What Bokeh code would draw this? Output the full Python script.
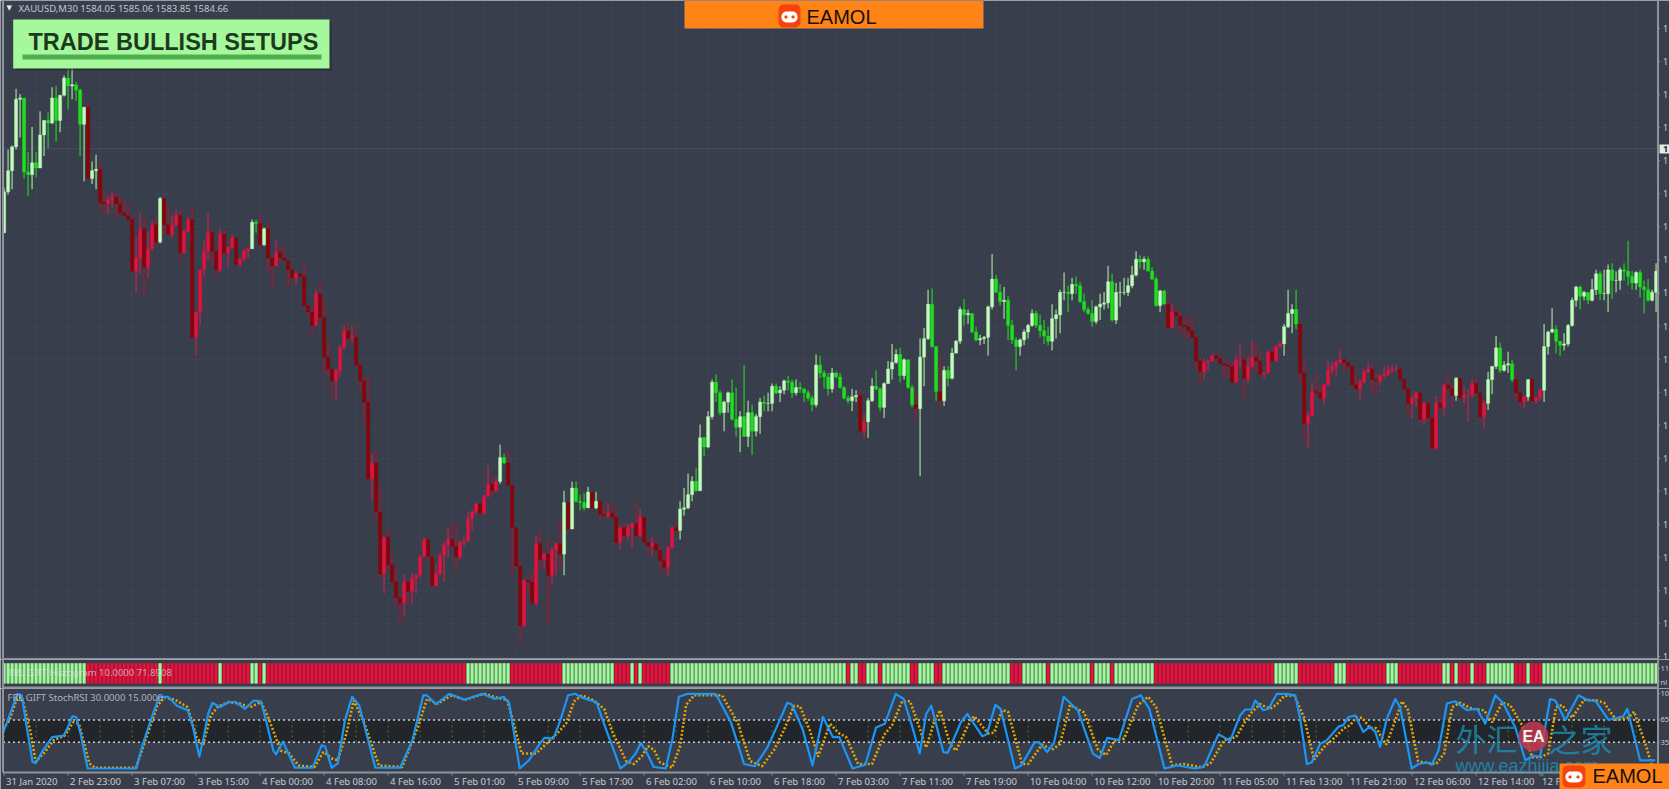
from bokeh.core.properties import value
from bokeh.embed import file_html
from bokeh.resources import INLINE
from bokeh.layouts import column
from bokeh.models import (BoxAnnotation, ColumnDataSource, FixedTicker, Grid, Label, Range1d)
from bokeh.plotting import figure

# ---------------- chart values ----------------
first_open = 1578.3
closes = [
1581.4,1583.0,1584.8,1588.4,1588.5,1582.9,1582.7,1583.6,1583.2,1585.7,1586.8,1586.6,1588.5,1586.8,1588.7,1590.0,1589.4,1589.5,1589.1,1586.5,
1587.8,1582.4,1583.0,1583.1,1580.6,1580.5,1580.8,1581.0,1580.5,1579.8,1579.6,1579.3,1575.4,1576.4,1578.6,1575.7,1577.1,1578.9,1577.6,1580.9,
1578.9,1578.2,1578.9,1579.6,1576.8,1578.4,1579.3,1570.4,1572.3,1575.5,1576.9,1578.3,1576.9,1575.5,1578.2,1576.8,1577.2,1577.9,1575.9,1576.3,
1576.9,1577.1,1579.1,1579.0,1577.4,1578.6,1576.4,1575.8,1576.8,1576.4,1576.2,1575.5,1574.9,1575.2,1575.0,1572.8,1572.3,1571.3,1573.7,1571.9,
1568.9,1568.0,1567.1,1567.9,1569.6,1570.9,1570.3,1570.4,1568.3,1567.1,
1565.5,1559.7,1560.9,1557.2,1552.5,1555.3,1553.2,1551.9,1550.7,1550.3,1551.9,1551.2,1552.2,1552.4,1553.8,1555.1,1553.8,1551.6,1552.5,1553.9,
1554.7,1555.1,1554.6,1553.8,1554.9,1555.0,1556.7,1557.2,1557.8,1557.1,1558.4,1559.3,1558.8,1559.5,1561.3,1560.9,1559.2,1556.0,1553.1,1548.6,
1552.0,1551.9,1550.3,1554.8,1553.6,1554.0,1552.4,1554.3,1554.8,1554.0,1557.9,1555.9,1559.0,1558.0,1557.9,1557.5,1558.7,1557.5,1558.0,1557.0,
1556.9,1557.1,1556.8,1554.9,1556.0,1555.4,1556.0,1556.3,1555.4,1556.8,1554.9,1554.6,1554.8,1554.3,1553.5,1553.0,1554.5,1556.0,1555.8,1557.4,
1557.5,1558.5,1559.5,1558.8,1562.8,
1562.1,1564.4,1567.0,1566.2,1564.7,1565.5,1566.2,1564.2,1563.6,1564.4,1562.9,1564.7,1563.3,1564.4,1565.5,1565.4,1565.4,1566.7,1566.2,1566.4,
1567.1,1567.0,1566.2,1566.6,1566.5,1566.2,1565.8,1565.3,1568.3,1567.7,1567.4,1566.5,1567.7,1567.4,1566.6,1565.8,1565.6,1565.9,1566.0,1563.3,
1564.0,1565.6,1566.7,1566.5,1565.1,1566.9,1568.0,1568.5,1569.1,1567.5,1568.7,1566.6,1565.3,1565.0,1568.9,1570.3,1572.9,1569.7,1566.3,1565.6,
1567.9,1567.3,1569.2,1570.1,1572.5,1572.1,1572.2,1570.8,1570.2,1570.3,1570.4,1572.7,1574.8,1573.8,1573.1,1573.2,1571.3,1570.2,1569.7,1570.2,
1570.8,1571.3,1572.2,1571.3,1570.9,
1570.5,1570.1,1571.8,1572.1,1573.8,1573.8,1573.7,1574.4,1574.3,1573.1,1572.5,1572.2,1571.6,1572.7,1572.9,1573.0,1574.6,1571.7,1573.8,1573.8,
1573.8,1574.3,1575.1,1576.3,1576.1,1576.3,1575.4,1574.8,1572.8,1573.9,1572.9,1571.1,1572.3,1572.0,1571.3,1571.2,1570.9,1570.4,1568.6,1567.8,
1568.5,1568.6,1569.0,1568.8,1568.4,1568.3,1568.2,1567.0,1568.7,1568.7,1567.3,1568.2,1568.9,1568.6,1567.6,1567.7,1569.3,1568.6,1569.7,1569.9,
1571.2,1572.2,1572.5,1571.4,1567.7,1563.9,1564.5,1566.3,1566.2,1565.8,1566.8,1567.9,1568.2,1568.5,1568.7,1568.5,1568.2,1566.8,1566.5,1567.0,
1567.8,1568.0,1567.2,1567.1,1567.5,
1567.6,1567.9,1568.0,1568.0,1567.2,1566.5,1565.4,1565.8,1566.2,1564.2,1565.4,1564.3,1562.0,1565.4,1565.1,1566.8,1566.5,1566.0,1567.3,1565.8,
1566.0,1566.0,1566.9,1566.2,1564.4,1565.4,1567.2,1568.2,1569.6,1567.9,1568.3,1568.4,1567.2,1566.2,1565.5,1565.9,1567.2,1565.6,1565.8,1566.4,
1569.7,1570.8,1571.0,1570.1,1569.8,1569.9,1571.3,1573.2,1574.2,1573.5,1573.8,1573.2,1574.0,1575.2,1573.7,1573.7,1575.5,1574.7,1574.7,1575.5,
1575.4,1575.0,1574.5,1575.3,1574.2,1574.0,1573.2,1573.8,1575.4]
highs = [
1581.7,1584.6,1584.9,1589.2,1588.8,1588.5,1584.4,1586.3,1584.4,1587.5,1586.8,1587.4,1589.3,1589.4,1588.7,1590.2,1591.5,1591.0,1589.7,1589.2,
1587.8,1588.0,1583.7,1584.2,1583.6,1581.5,1581.1,1581.4,1581.3,1581.0,1580.9,1580.5,1579.6,1577.9,1579.8,1579.5,1578.4,1579.2,1579.5,1581.0,
1581.1,1580.4,1579.6,1580.0,1580.0,1578.6,1579.5,1580.4,1572.3,1575.5,1577.7,1579.8,1578.6,1576.9,1578.6,1578.6,1577.2,1578.2,1577.9,1576.4,
1577.1,1577.2,1579.3,1579.3,1579.7,1578.7,1579.1,1576.4,1577.7,1577.3,1577.3,1576.2,1575.5,1575.4,1575.3,1575.9,1572.8,1572.7,1574.0,1574.6,
1573.2,1570.1,1568.0,1568.0,1569.8,1571.3,1571.5,1571.2,1571.1,1568.5,
1567.4,1567.4,1561.6,1561.9,1559.1,1555.3,1556.0,1554.0,1553.0,1550.7,1552.5,1552.0,1552.6,1552.5,1553.9,1555.3,1555.2,1553.9,1553.2,1554.1,
1554.9,1555.9,1556.4,1556.3,1555.0,1555.3,1557.2,1557.3,1557.9,1557.8,1558.5,1560.7,1559.9,1559.8,1562.3,1561.6,1561.9,1559.3,1556.0,1553.5,
1552.1,1552.5,1552.5,1555.4,1555.8,1554.1,1555.2,1554.5,1554.9,1556.7,1558.8,1557.9,1559.5,1559.5,1558.5,1558.6,1559.1,1558.7,1558.7,1558.1,
1557.7,1557.8,1557.8,1557.5,1556.1,1556.5,1556.3,1556.4,1558.0,1557.4,1556.8,1555.1,1555.3,1555.0,1554.6,1554.1,1554.6,1556.1,1556.5,1558.0,
1559.0,1560.1,1559.9,1560.5,1563.8,
1562.9,1564.8,1567.2,1567.6,1566.4,1565.6,1566.3,1567.2,1566.6,1564.8,1568.3,1565.6,1565.3,1564.6,1565.8,1566.0,1566.2,1566.9,1566.9,1566.7,
1567.2,1567.5,1567.2,1567.2,1567.0,1566.5,1566.4,1566.0,1569.1,1569.0,1567.9,1567.7,1568.1,1567.8,1567.7,1566.7,1566.0,1566.5,1566.4,1566.5,
1564.6,1565.8,1567.3,1567.9,1566.6,1567.0,1568.6,1569.9,1569.5,1569.6,1568.8,1568.7,1566.8,1566.4,1570.3,1571.1,1574.0,1574.1,1569.7,1568.9,
1568.2,1568.2,1569.6,1570.2,1572.7,1573.3,1572.5,1572.2,1571.2,1570.6,1570.5,1572.8,1576.7,1575.1,1574.4,1574.2,1573.5,1571.7,1570.4,1570.3,
1571.0,1571.4,1572.5,1572.4,1572.1,
1571.7,1571.2,1572.9,1572.5,1574.0,1575.3,1574.3,1574.9,1575.0,1574.6,1573.7,1572.7,1573.2,1572.8,1573.7,1573.8,1575.8,1575.2,1574.5,1574.6,
1574.9,1574.9,1575.8,1576.9,1576.6,1576.5,1576.5,1575.7,1575.0,1574.0,1574.0,1573.3,1572.9,1572.7,1572.5,1571.9,1572.1,1571.9,1570.6,1568.9,
1568.8,1568.7,1569.1,1569.1,1569.2,1568.5,1568.7,1568.4,1569.1,1569.9,1569.1,1568.9,1570.1,1570.1,1569.4,1567.8,1569.4,1569.7,1569.8,1570.1,
1571.4,1574.0,1572.9,1574.0,1571.5,1568.7,1564.8,1567.0,1567.6,1566.8,1566.9,1568.6,1568.5,1568.7,1569.5,1568.8,1568.5,1568.2,1567.9,1567.2,
1568.0,1568.5,1568.3,1567.7,1567.6,
1568.2,1568.3,1568.3,1568.4,1568.0,1567.2,1566.6,1566.0,1566.3,1566.2,1565.5,1565.6,1564.4,1566.0,1566.0,1566.9,1567.7,1566.8,1567.4,1567.3,
1566.7,1566.5,1567.2,1567.3,1566.3,1565.6,1567.8,1568.2,1570.5,1570.0,1568.6,1569.3,1568.7,1567.7,1566.3,1566.0,1567.2,1567.2,1565.9,1566.5,
1571.4,1570.9,1572.6,1571.3,1570.1,1570.7,1571.4,1573.4,1574.3,1574.3,1573.9,1573.8,1574.8,1575.5,1575.4,1575.5,1575.9,1576.0,1575.4,1575.7,
1576.0,1577.7,1575.4,1575.4,1575.5,1574.7,1574.8,1574.0,1576.0]
lows = [
1578.3,1581.2,1581.6,1584.6,1585.5,1582.4,1581.1,1581.6,1582.5,1583.2,1584.1,1584.7,1586.5,1585.2,1585.9,1588.6,1587.6,1588.4,1588.3,1584.1,
1582.2,1582.4,1582.0,1581.6,1580.0,1579.7,1579.7,1580.2,1579.3,1579.7,1579.5,1579.2,1575.3,1573.8,1575.2,1573.5,1574.9,1576.9,1577.4,1577.5,
1578.1,1578.1,1577.9,1578.8,1576.2,1576.7,1578.3,1570.3,1569.0,1571.3,1575.0,1576.2,1575.8,1574.8,1575.3,1576.6,1575.7,1577.1,1575.9,1575.7,
1576.2,1576.4,1577.1,1578.3,1577.2,1577.3,1575.3,1573.9,1575.8,1576.3,1576.1,1574.4,1574.4,1574.4,1574.9,1572.7,1571.9,1570.6,1571.3,1571.8,
1567.6,1567.5,1565.8,1565.6,1567.4,1569.5,1570.1,1570.0,1568.2,1566.4,
1564.1,1559.7,1558.0,1556.5,1552.2,1551.0,1553.0,1551.9,1549.9,1548.8,1549.3,1550.3,1550.2,1551.0,1552.2,1553.8,1553.6,1551.5,1552.2,1552.4,
1551.9,1553.8,1554.4,1552.6,1553.6,1554.6,1554.9,1555.8,1557.0,1557.0,1557.0,1558.3,1558.3,1558.7,1559.3,1560.8,1559.2,1552.5,1553.0,1547.3,
1548.5,1550.9,1550.3,1550.1,1552.9,1553.0,1548.7,1551.7,1552.4,1552.7,1552.4,1555.8,1555.9,1557.9,1557.3,1557.3,1557.5,1557.4,1557.4,1556.5,
1556.8,1556.7,1556.7,1554.8,1554.3,1555.2,1555.0,1554.4,1555.2,1555.3,1554.8,1553.9,1553.8,1554.1,1552.7,1552.6,1552.3,1554.4,1555.6,1555.1,
1556.9,1557.4,1558.0,1558.7,1558.8,
1561.4,1562.0,1564.2,1565.5,1564.5,1563.3,1564.7,1564.1,1562.9,1561.7,1562.9,1562.1,1561.5,1562.9,1563.1,1564.8,1564.8,1564.8,1566.1,1565.5,
1566.1,1566.4,1565.8,1566.0,1566.2,1565.5,1565.6,1564.8,1565.1,1567.3,1566.5,1566.0,1566.2,1567.3,1566.5,1565.7,1565.4,1564.8,1565.5,1563.3,
1562.8,1562.8,1565.5,1566.4,1564.8,1564.3,1566.9,1567.2,1568.4,1567.0,1567.2,1566.5,1565.1,1564.1,1559.9,1566.7,1570.2,1569.6,1565.6,1565.1,
1565.2,1566.7,1567.2,1569.2,1569.9,1571.3,1571.4,1570.7,1570.1,1569.8,1569.9,1569.0,1572.5,1573.8,1572.8,1571.8,1570.2,1569.9,1567.9,1569.0,
1569.8,1570.3,1571.2,1571.1,1570.4,
1569.9,1569.8,1569.4,1570.3,1570.7,1573.2,1572.3,1573.2,1573.7,1573.0,1572.3,1572.1,1571.2,1571.4,1571.7,1572.5,1572.6,1571.6,1571.4,1572.7,
1573.6,1573.5,1574.1,1575.0,1575.6,1575.5,1575.4,1574.7,1572.7,1572.3,1572.9,1571.1,1571.1,1571.9,1570.7,1570.3,1570.2,1570.4,1567.9,1566.9,
1567.2,1567.9,1568.6,1568.7,1568.4,1567.2,1567.4,1566.9,1567.0,1568.0,1565.8,1566.9,1568.0,1567.7,1567.5,1567.3,1567.7,1568.5,1568.6,1569.6,
1569.0,1571.1,1570.7,1571.0,1567.0,1562.6,1562.0,1564.4,1566.0,1565.6,1565.3,1566.7,1567.6,1567.4,1568.4,1567.8,1568.0,1566.7,1566.4,1565.6,
1566.9,1567.7,1566.2,1566.0,1566.8,
1567.3,1567.5,1567.7,1567.8,1567.2,1566.4,1564.5,1564.3,1565.1,1563.8,1563.8,1564.1,1561.9,1561.9,1565.0,1564.4,1566.4,1565.1,1565.6,1565.8,
1565.4,1564.0,1565.8,1566.2,1564.0,1563.6,1564.9,1566.1,1568.0,1567.7,1567.8,1567.7,1567.0,1565.6,1565.1,1565.0,1565.6,1565.4,1565.4,1565.6,
1565.5,1569.1,1570.7,1569.2,1569.0,1569.4,1569.7,1571.2,1572.7,1572.5,1573.2,1572.9,1573.1,1573.6,1573.2,1573.2,1572.3,1573.3,1573.8,1574.0,
1574.7,1574.3,1574.0,1574.0,1573.4,1572.2,1573.1,1573.1,1572.3]
# first..last bar of every run of green-regime candles
candle_green_runs = [(0,20),(22,23),(39,39),(62,63),(65,65),(124,125),(140,140),(142,146),(148,148),(169,213),
                     (216,227),(229,233),(235,290),(320,323),(363,363),(371,377),(381,381),(385,413)]
# first..last bar of every run of green histogram stripes
hist_green_runs = [(0,20),(39,39),(54,54),(62,63),(65,65),(116,126),(140,152),(157,157),(159,159),(167,210),
                   (212,213),(216,218),(220,226),(229,232),(235,251),(255,260),(262,271),(273,276),(278,287),
                   (318,323),(333,335),(346,348),(360,361),(363,363),(367,367),(371,377),(381,381),(385,413)]
blue_bars = [-0.3,1.7,3.3,4.4,5.4,7.1,7.9,9.7,12,14.9,16,17.1,18,19.1,20.9,32,33,34.7,37.4,38.8,41,43.2,45.9,47.2,48.8,49.9,51,52.1,53.9,
56.2,57.9,60.2,62.4,64.2,65.5,67.3,68,69.7,72.7,77.1,79.4,80.3,81.9,83.4,85.2,87,88.8,92.8,99,102.1,104.8,105.7,107.9,111.3,115.1,119.6,
122.7,124.9,126.3,128.9,131.2,
134,135.1,137.3,138.9,141,142.7,144.8,148.1,150.3,154.1,156.2,157.9,159.2,160.6,162.4,165.4,167.1,168.7,170.9,177.9,181.7,185,187.7,190.9,
193.1,195.8,196.9,199.6,202.1,204.7,207.2,208.8,212.1,215.3,218,220.2,222.9,224.9,227.2,228.9,230.5,231.8,234.8,235.9,239.2,240.8,244.6,
245.7,247.8,249.1,252.7,254.3,257.6,258.7,260.8,262.5,264.9,268.4,272.2,273.9,275.8,278.7,282,284.2,286.3,290.1,293.4,297.7,299.9,
300.3,303.6,306.5,309,310.3,311.9,312.8,314.8,316.1,318.2,320.7,322.8,324,325.7,326.9,329,330.7,333.6,334.8,336.1,337.8,339.8,341.5,342.8,
344,345.7,347.8,349,351.9,353.6,355.7,356.9,358.6,360.7,362.8,365.7,368.2,370.3,372.8,374.8,377.8,380.3,382.3,384,386.5,387.8,390.3,393.6,
396.1,397.8,401.1,404.8,405.8,409,412.8]
blue_vals = [47,76,100,98,64,9,7,24,42,44,56,70,69,47,0,0,0,33,76,96,96,84,78,56,16,42,73,88,82,89,89,80,91,90,64,24,19,36,1,1,31,29,1,7,64,96,84,
1,1,38,98,98,86,100,92,100,93,96,87,0,11,
34,41,40,62,98,100,94,89,55,0,9,20,34,22,2,0,40,96,100,100,62,6,3,29,55,88,86,53,4,69,42,42,0,5,55,60,100,93,53,20,73,84,22,21,62,73,43,46,85,
80,0,4,35,35,22,35,96,78,20,14,41,38,93,98,80,0,4,0,2,
6,46,37,71,79,79,91,78,80,100,100,98,67,6,8,33,38,56,58,69,71,49,56,49,29,67,93,82,0,6,8,5,24,87,90,78,80,60,98,87,55,11,17,16,93,91,65,98,91,
91,65,70,80,11,11]
orange_bars = [-0.3,1.3,3,4.4,6.6,7.9,10.2,12.4,15.1,17.3,18.7,21.3,22.7,33,35.6,38.3,40.1,42.8,45.9,48.1,49.7,51.7,53.5,56.2,58.8,61.5,64.2,66,69.1,71.3,
73.6,77.6,79.8,82.1,83.4,85.6,87.4,90.1,93.7,99.5,103.5,105.7,108.4,112,115.1,120,123.1,125.8,129.4,133,136.5,139,
140.5,142.5,144.5,147,150,152,155.5,157.5,159.5,161,162.5,164,167,169,170.5,172.5,179.5,183.5,186.5,189.5,192.5,195,197.5,199,201.5,203.5,206.5,208.5,
210.5,213.5,217,220,222,224.5,226.5,229,230.5,232.5,234,236.5,238,241,242.5,246,247.5,249.5,251,254.5,256,259.5,262,264,266.5,270,273.5,275.5,277.5,
280,283.5,286,288,292,295,299,301.5,
305,308,310.5,312,314,316.5,318,320,322.5,325,327.5,330.5,332,335,336.5,338,339.5,341.5,343,345.5,347.5,349.5,351,353.5,355,358,360,362,364,367,370,
372,374.5,376.5,379.5,382,384,386,388,389.5,392,395,398,400,403,406,407.5,410.5,412,413.4]
orange_vals = [53,64,91,96,49,9,22,38,44,62,60,7,1,1,42,84,95,92,82,42,31,71,83,89,87,82,89,69,24,20,4,2,22,13,11,47,91,60,4,2,56,93,87,98,92,100,95,92,20,20,38,51,
60,90,98,92,80,50,10,6,17,30,25,8,1,30,85,98,98,60,10,3,25,52,84,83,50,16,60,48,42,6,6,45,58,90,90,52,28,62,78,32,24,58,70,47,48,78,76,6,6,32,25,33,85,75,25,18,37,
40,85,96,82,4,6,2,6,
38,42,65,76,86,80,85,97,98,68,12,32,38,54,58,68,68,54,54,32,60,90,78,10,8,6,20,82,88,80,78,62,88,85,58,15,15,20,82,85,68,92,91,88,65,68,76,30,3,3]
x_tick_labels = ["31 Jan 2020","2 Feb 23:00","3 Feb 07:00","3 Feb 15:00","4 Feb 00:00","4 Feb 08:00","4 Feb 16:00","5 Feb 01:00",
                 "5 Feb 09:00","5 Feb 17:00","6 Feb 02:00","6 Feb 10:00","6 Feb 18:00","7 Feb 03:00","7 Feb 11:00","7 Feb 19:00",
                 "10 Feb 04:00","10 Feb 12:00","10 Feb 20:00","11 Feb 05:00","11 Feb 13:00","11 Feb 21:00","12 Feb 06:00","12 Feb 14:00","12 Feb 22:00"]
price_ticks = [1593.75,1591.25,1588.75,1586.25,1583.75,1581.25,1578.75,1576.25,1573.75,1571.25,1568.75,1566.25,1563.75,1561.25,
               1558.75,1556.25,1553.75,1551.25,1548.75,1546.25]
stoch_levels = [65, 35]
header_text = "XAUUSD,M30  1584.05 1585.06 1583.85 1584.66"
hist_text = "FRL GIFT Histogram 10.0000 71.8908"
stoch_text = "FRL GIFT StochRSI 30.0000 15.0000"
last_price = 1584.66

# ---------------- layout and colours ----------------
BG = "#393e4d"
SEP = "#8f939b"
TXT = "#c9ccd2"
GRID = "#4a4f60"
FONT = "Noto Sans"
ORANGE = "#ff8317"
TEAL = "#1b8fb5"
WIDTH = 1669
H1, H2, H3 = 659, 29, 101

n = len(closes)
bars = list(range(n))
opens = [first_open] + closes[:-1]

def in_runs(i, runs):
    return any(a <= i <= b for a, b in runs)

PALE, LIME, CRIM, DARK = "#c0fcbc", "#1fe01f", "#e3123f", "#8b0308"
W_PALE, W_LIME, W_CRIM, W_DARK = "#7fa981", "#2e9c34", "#9a2a4c", "#8a2038"
body, wick = [], []
for i in bars:
    up = closes[i] >= opens[i]
    if in_runs(i, candle_green_runs):
        body.append(PALE if up else LIME); wick.append(W_PALE if up else W_LIME)
    else:
        body.append(CRIM if up else DARK); wick.append(W_CRIM if up else W_DARK)
src = ColumnDataSource(dict(x=bars, o=opens, c=closes, h=highs, l=lows, body=body, wick=wick))

xof = lambda r: (r - 3.6) / 4                  # picture x -> bar number
pof = lambda r: 1593.75 - (r - 28) * 0.07562   # picture y -> price
hof = lambda r: (683 - r) / 20.3               # picture y -> histogram value
sof = lambda r: (768 - r) / 0.747              # picture y -> oscillator value
XL, XR = xof(2.5), xof(1657.5)

x_range = Range1d(xof(0), xof(1669))
def panel(height, y_range):
    p = figure(width=WIDTH, height=height, output_backend="svg", toolbar_location=None, tools="", x_range=x_range,
               y_range=y_range, x_axis_location=None, y_axis_location=None, background_fill_color=BG,
               border_fill_color=BG, outline_line_color=None, min_border_left=0, min_border_right=0,
               min_border_top=0, min_border_bottom=0)
    p.grid.visible = False
    return p

def label(p, rx, ry, text, size, color=TXT, font=FONT, style="normal", align="left", alpha=1.0):
    p.add_layout(Label(x=rx, y=ry, text=text, text_font=font, text_font_size=f"{size}px", text_font_style=style,
                       text_color=color, text_align=align, text_baseline="middle", text_alpha=alpha))

def box(p, l, r, b, t, color, alpha=1.0, radius=0, level="annotation"):
    p.add_layout(BoxAnnotation(left=l, right=r, bottom=b, top=t, fill_color=color, fill_alpha=alpha,
                               line_color=None, border_radius=radius, level=level))

def rule(p, y0, y1, x0=XL, x1=XR, color=SEP, width=2, dash="solid"):
    p.segment([x0], [y0], [x1], [y1], line_color=color, line_width=width, line_dash=dash)

def side_labels(p, ys, texts, at=1662.5, size=9):
    p.text([xof(at)] * len(ys), ys, text=texts, text_font=value(FONT), text_font_size=f"{size}px",
           text_color=TXT, text_baseline="middle", text_align="left")

eight = list(range(0, n, 8))
TICK = xof(1659.5)

# ---------------- main candle panel ----------------
p1 = panel(H1, Range1d(pof(659), pof(0)))
p1.add_layout(Grid(dimension=0, ticker=FixedTicker(ticks=eight), grid_line_color=GRID, grid_line_dash="1 3"))
p1.segment([XL] * len(price_ticks), price_ticks, [XR] * len(price_ticks), price_ticks, line_color=GRID, line_dash="1 3")
rule(p1, last_price, last_price, color=GRID, width=1)
p1.segment("x", "l", "x", "h", source=src, line_color="wick", line_width=1.8)
p1.vbar("x", 0.78, "o", "c", source=src, fill_color="body", line_color="body", line_width=0.4)
# right-hand price scale (the picture cuts its labels to the first digit)
rule(p1, pof(0), pof(659), XR, XR)
p1.segment([XR] * len(price_ticks), price_ticks, [TICK] * len(price_ticks), price_ticks, line_color=SEP, line_width=1)
side_labels(p1, price_ticks, ["1"] * len(price_ticks))
rule(p1, pof(0), pof(659), XL, XL)
rule(p1, pof(658.5), pof(658.5))

# top-left tag
box(p1, xof(14.7), xof(331), pof(70), pof(21), "#20242c", 0.6)
box(p1, xof(12.7), xof(329), pof(68), pof(19), "#a6f89c")
box(p1, xof(22), xof(321), pof(59), pof(54), "#4fae50")
label(p1, xof(28), pof(41), "TRADE BULLISH SETUPS", 23.5, "#1d3a1f", "Liberation Sans", "bold")
label(p1, xof(18), pof(7.5), header_text, 9.5, "#c4c7cd")
label(p1, xof(6), pof(7), "\u25bc", 7, "#e8e8e8", "DejaVu Sans")

# top banner
box(p1, xof(683), xof(984), pof(29), pof(0), "#24406e")
box(p1, xof(684), xof(983), pof(28), pof(0), ORANGE)
box(p1, xof(778), xof(800), pof(27), pof(4), "#f4430c", radius=5)
box(p1, xof(781), xof(797), pof(22), pof(11), "#ffffff", radius=5)
box(p1, xof(784), xof(787), pof(18), pof(15), "#f4430c", radius=1)
box(p1, xof(791), xof(794), pof(18), pof(15), "#f4430c", radius=1)
label(p1, xof(806), pof(16), "EAMOL", 20, "#17120c", "Liberation Sans")

# last price flag
box(p1, xof(1659), xof(1672), pof(153), pof(144), "#e8e8e8")
label(p1, xof(1662.5), pof(148.5), "1", 9, "#222222", FONT, "bold")

# ---------------- histogram panel ----------------
p2 = panel(H2, Range1d(hof(688), hof(659)))
hist_vals = [1.0] * n
hist_fill = ["#a6f5a0" if in_runs(i, hist_green_runs) else "#e3143f" for i in bars]
hist_back = ["#5f9a60" if in_runs(i, hist_green_runs) else "#9c1535" for i in bars]
hsrc = ColumnDataSource(dict(x=bars, top=hist_vals, fill=hist_fill, back=hist_back))
p2.vbar("x", 1.0, 0, "top", source=hsrc, fill_color="back", line_color=None)
p2.vbar("x", 0.66, 0, "top", source=hsrc, fill_color="fill", line_color=None)
rule(p2, hof(659), hof(688), XR, XR)
rule(p2, hof(659), hof(688), XL, XL)
p2.segment([XR, XR], [hof(668), hof(681)], [TICK, TICK], [hof(668), hof(681)], line_color=SEP, line_width=1)
side_labels(p2, [hof(668), hof(681)], ["11", "nl"], at=1660, size=7.5)
rule(p2, hof(687), hof(687))
label(p2, xof(8), hof(672), hist_text, 9.5, "#e4e4e4", alpha=0.65)

# ---------------- oscillator panel ----------------
p3 = panel(H3, Range1d(sof(789), sof(688)))
box(p3, XL, XR, 35, 65, "#22262a", level="underlay")
p3.segment(eight, [35] * len(eight), eight, [65] * len(eight), line_color="#66662f", line_width=1, line_dash="2 3")
for lvl in stoch_levels:
    rule(p3, lvl, lvl, color=TXT, width=1.5, dash="2 3")
p3.line(orange_bars, orange_vals, line_color="#e0a800", line_width=2.6, line_dash="2 2")
p3.line(blue_bars, blue_vals, line_color="#1c96f5", line_width=2.2, line_join="round")
rule(p3, sof(688), sof(772), XR, XR)
rule(p3, sof(688), sof(772), XL, XL)
rule(p3, sof(772), sof(772))
level_marks = [100, 65, 35]
p3.segment([XR] * 3, level_marks, [TICK] * 3, level_marks, line_color=SEP, line_width=1)
side_labels(p3, level_marks, ["10", "65", "35"], at=1660, size=7.5)
label(p3, xof(7), sof(697), stoch_text, 9.5, "#c9ccd2", alpha=0.85)

# time scale
tick_bars = [16 * k for k in range(len(x_tick_labels))]
p3.segment(tick_bars, [sof(772)] * len(tick_bars), tick_bars, [sof(775)] * len(tick_bars), line_color=SEP, line_width=1)
p3.text([b + 0.5 for b in tick_bars], [sof(781)] * len(tick_bars), text=x_tick_labels, text_font=value(FONT),
        text_font_size="9.5px", text_color=TXT, text_align="left", text_baseline="middle")

# watermark
label(p3, xof(1455), sof(737), "\u5916\u6c47", 31, TEAL, "Noto Sans CJK SC", alpha=0.8)
label(p3, xof(1548), sof(737), "\u4e4b\u5bb6", 32, TEAL, "Noto Sans CJK SC", alpha=0.8)
box(p3, xof(1518), xof(1548), sof(751), sof(721), "#c23a50", 0.85, radius=15)
label(p3, xof(1533), sof(736), "EA", 16, "#f2f2f2", "Liberation Sans", "bold", align="center")
label(p3, xof(1455), sof(765), "www.eazhijia.com", 18, TEAL, "Liberation Sans", alpha=0.85)

# bottom-right logo
box(p3, xof(1559), xof(1672), sof(792), sof(763), ORANGE)
box(p3, xof(1562), xof(1585), sof(787), sof(765), "#f4430c", radius=5)
box(p3, xof(1565), xof(1582), sof(782), sof(771), "#ffffff", radius=5)
box(p3, xof(1568), xof(1571), sof(778), sof(775), "#f4430c", radius=1)
box(p3, xof(1576), xof(1579), sof(778), sof(775), "#f4430c", radius=1)
label(p3, xof(1592), sof(775.5), "EAMOL", 20, "#17120c", "Liberation Sans")

layout = column(p1, p2, p3, spacing=0)
html = file_html(layout, INLINE)
open("out.html", "w").write(html)
